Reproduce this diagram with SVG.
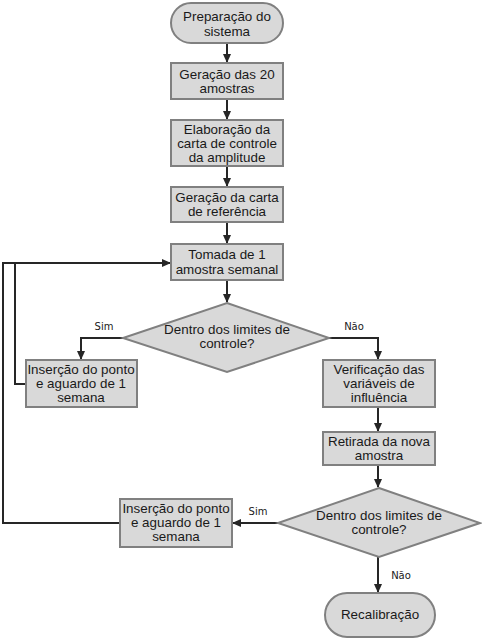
<svg xmlns="http://www.w3.org/2000/svg" width="482" height="639" viewBox="0 0 482 639">
<defs>
<style>
.n{fill:#d9d9d9;stroke:#808080;stroke-width:2}
.t{font-family:"Liberation Sans",Arial,sans-serif;font-size:13.4px;fill:#1a1a1a;text-anchor:middle}
.l{font-family:"DejaVu Sans",Verdana,sans-serif;font-size:10px;fill:#1a1a1a;text-anchor:middle}
.c{fill:none;stroke:#262626;stroke-width:2}
</style>
<marker id="a" markerWidth="10" markerHeight="10" refX="8" refY="5" orient="auto" markerUnits="userSpaceOnUse">
<path d="M0,1 L9,5 L0,9 Z" fill="#262626"/>
</marker>
</defs>
<rect width="482" height="639" fill="#fff"/>
<g id="connectors">
<path class="c" d="M227,43 V62" marker-end="url(#a)"/>
<path class="c" d="M227,99 V119" marker-end="url(#a)"/>
<path class="c" d="M227,166 V186" marker-end="url(#a)"/>
<path class="c" d="M227,222 V243" marker-end="url(#a)"/>
<path class="c" d="M227,280 V302" marker-end="url(#a)"/>
<path class="c" d="M123,338 H81 V359" marker-end="url(#a)"/>
<path class="c" d="M329,338 H378 V359" marker-end="url(#a)"/>
<path class="c" d="M378,407 V431" marker-end="url(#a)"/>
<path class="c" d="M378,465 V487" marker-end="url(#a)"/>
<path class="c" d="M278,523 H233" marker-end="url(#a)"/>
<path class="c" d="M378,557 V592" marker-end="url(#a)"/>
<path class="c" d="M26,384 H15 V263 H170" marker-end="url(#a)"/>
<path class="c" d="M120,523 H3 V263 H15"/>
<text class="l" x="104" y="330">Sim</text>
<text class="l" x="354" y="330">Não</text>
<text class="l" x="258" y="515">Sim</text>
<text class="l" x="401" y="579">Não</text>
</g>
<g id="start">
<rect class="n" x="171" y="3" width="112" height="40" rx="20" ry="20"/>
<text class="t" x="227" y="21">Preparação do</text>
<text class="t" x="227" y="36">sistema</text>
</g>
<g id="geracao20">
<rect class="n" x="171" y="63" width="112" height="36"/>
<text class="t" x="227" y="79">Geração das 20</text>
<text class="t" x="227" y="93">amostras</text>
</g>
<g id="elaboracao">
<rect class="n" x="171" y="120" width="112" height="46"/>
<text class="t" x="227" y="134">Elaboração da</text>
<text class="t" x="227" y="148">carta de controle</text>
<text class="t" x="227" y="162">da amplitude</text>
</g>
<g id="referencia">
<rect class="n" x="171" y="187" width="112" height="35"/>
<text class="t" x="227" y="202">Geração da carta</text>
<text class="t" x="227" y="216">de referência</text>
</g>
<g id="tomada">
<rect class="n" x="171" y="244" width="112" height="36"/>
<text class="t" x="227" y="259">Tomada de 1</text>
<text class="t" x="227" y="274">amostra semanal</text>
</g>
<g id="decisao1">
<polygon class="n" points="227,303 329,338 227,372 123,338"/>
<text class="t" x="227" y="334">Dentro dos limites de</text>
<text class="t" x="227" y="348">controle?</text>
</g>
<g id="insercao1">
<rect class="n" x="26" y="360" width="111" height="47"/>
<text class="t" x="81" y="374">Inserção do ponto</text>
<text class="t" x="81" y="388">e aguardo de 1</text>
<text class="t" x="81" y="402">semana</text>
</g>
<g id="verificacao">
<rect class="n" x="323" y="360" width="112" height="47"/>
<text class="t" x="379" y="374">Verificação das</text>
<text class="t" x="379" y="388">variáveis de</text>
<text class="t" x="379" y="402">influência</text>
</g>
<g id="retirada">
<rect class="n" x="323" y="432" width="112" height="33"/>
<text class="t" x="379" y="446">Retirada da nova</text>
<text class="t" x="379" y="460">amostra</text>
</g>
<g id="decisao2">
<polygon class="n" points="379,488 480,523 379,557 278,523"/>
<text class="t" x="379" y="520">Dentro dos limites de</text>
<text class="t" x="379" y="534">controle?</text>
</g>
<g id="insercao2">
<rect class="n" x="120" y="499" width="112" height="48"/>
<text class="t" x="176" y="513">Inserção do ponto</text>
<text class="t" x="176" y="527">e aguardo de 1</text>
<text class="t" x="176" y="541">semana</text>
</g>
<g id="recalibracao">
<rect class="n" x="325" y="593" width="110" height="44" rx="22" ry="22"/>
<text class="t" x="380" y="619">Recalibração</text>
</g>
</svg>
